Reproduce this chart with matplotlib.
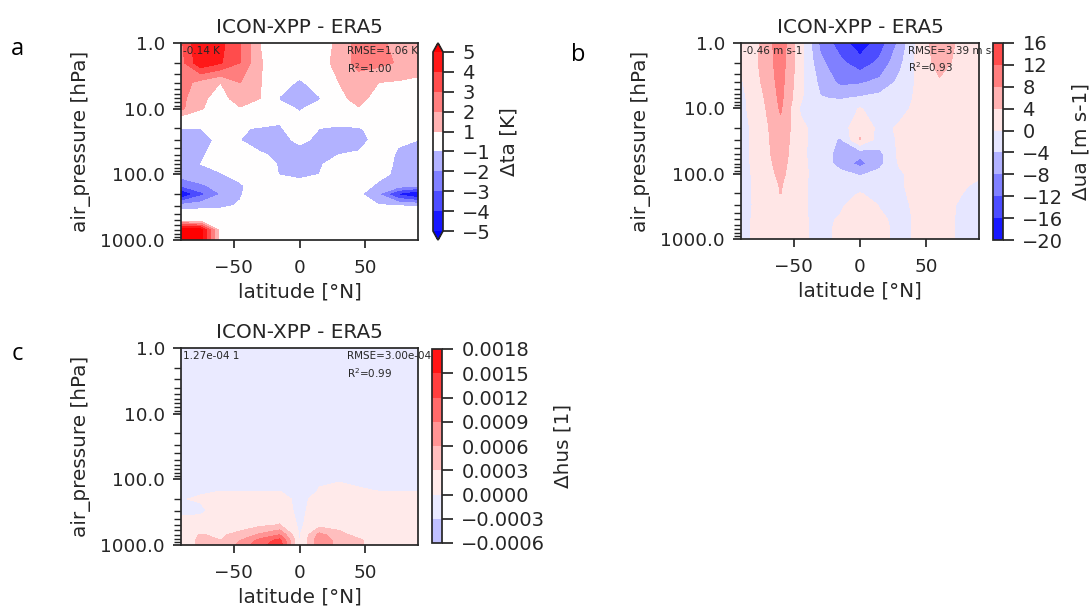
import numpy as np
import matplotlib
matplotlib.use('Agg')
import matplotlib.pyplot as plt
import seaborn as sns
from matplotlib.ticker import FuncFormatter

# zonal-mean differences ICON-XPP minus ERA5
lat = [-90, -75, -60, -45, -30, -15, 0, 15, 30, 45, 60, 75, 90]
plev = [1, 2, 4, 7, 10, 20, 30, 50, 70, 100, 150, 200, 300, 500, 700, 850, 1000]

# air temperature difference [K], one row per pressure level
ta_diff = [
    [2.8, 5.0, 4.3, 3.0, 1.0, 0.2, 0.0, 0.3, 1.3, 2.4, 2.3, 1.6, 1.4],
    [2.6, 4.8, 4.1, 3.0, 1.1, 0.3, 0.0, 0.4, 1.5, 2.3, 2.3, 1.9, 1.5],
    [2.5, 1.6, 1.0, 2.0, 1.1, -0.4, -1.2, -0.4, 1.0, 1.6, 1.0, 0.9, 0.8],
    [2.3, 1.2, 0.6, 1.5, 1.0, -1.1, -1.8, -1.1, 0.7, 1.4, 0.5, 0.3, 0.3],
    [2.2, 1.1, 0.4, 0.9, 0.5, -0.6, -1.1, -0.6, 0.4, 0.9, 0.3, 0.2, 0.2],
    [-1.05, -1.0, -0.5, -0.9, -1.1, -1.1, -0.5, -1.0, -1.2, -1.1, -0.6, 0.0, 0.0],
    [-1.4, -1.3, -0.8, -1.0, -1.4, -1.3, -0.8, -1.2, -1.4, -1.3, -0.7, -0.9, -1.0],
    [-1.3, -1.1, -0.7, -0.6, -0.9, -1.2, -1.4, -1.1, -1.0, -0.9, -0.6, -1.1, -1.3],
    [-1.3, -1.0, -0.6, -0.4, -0.5, -1.1, -1.4, -1.1, -0.6, -0.5, -0.5, -1.2, -1.4],
    [-1.5, -1.3, -1.1, -0.5, -0.3, -1.05, -1.3, -1.0, -0.5, -0.4, -0.6, -1.3, -1.6],
    [-3.0, -2.2, -1.6, -1.2, -0.2, -0.3, -0.5, -0.3, -0.2, -0.3, -1.3, -1.6, -1.9],
    [-5.2, -3.3, -2.0, -1.1, -0.2, 0.0, 0.0, 0.0, 0.0, -0.8, -2.0, -4.2, -5.3],
    [-1.6, -1.4, -1.2, -0.9, 0.0, 0.0, 0.0, 0.0, 0.0, -0.3, -0.9, -1.0, -1.1],
    [0.5, 0.4, 0.0, 0.0, 0.0, 0.0, 0.0, 0.0, 0.0, 0.0, 0.0, 0.0, 0.0],
    [6.0, 5.5, 0.5, 0.0, 0.0, 0.0, 0.0, 0.0, 0.0, 0.0, 0.0, 0.0, 0.0],
    [6.0, 5.5, 0.5, 0.0, 0.0, 0.0, 0.0, 0.0, 0.0, 0.0, 0.0, 0.0, 0.0],
    [6.0, 5.5, 0.5, 0.0, 0.0, 0.0, 0.0, 0.0, -1.1, 0.0, 0.0, 0.0, 0.0],
]

# eastward wind difference [m s-1]
ua_diff = [
    [1.0, 4.2, 10.5, 1.5, -9.0, -14.0, -18.5, -14.0, -7.0, 2.0, 6.0, 3.5, 2.0],
    [0.8, 4.5, 10.0, 1.5, -7.0, -11.0, -14.5, -11.0, -5.0, 1.5, 5.5, 3.0, 2.0],
    [-0.5, 4.0, 9.5, 1.0, -5.0, -9.0, -8.5, -7.0, -3.0, 1.0, 3.5, 2.5, 1.5],
    [-1.0, 3.0, 9.0, 0.5, -3.8, -4.3, -3.5, -2.5, -1.5, 0.8, 2.5, 2.0, 1.0],
    [-1.0, 2.5, 8.5, -0.5, -2.0, -2.0, 0.2, -1.5, -1.0, 1.0, 2.0, 1.5, 1.0],
    [-1.5, 2.0, 7.0, 0.8, -1.5, -2.0, 2.5, -1.0, 0.5, 2.0, 2.0, 1.5, 1.0],
    [-1.5, 2.0, 6.5, 0.8, -1.5, -4.5, 4.3, -2.0, 0.5, 2.0, 2.0, 1.5, 1.0],
    [-1.5, 2.0, 6.0, 0.8, -1.8, -5.5, -7.0, -5.0, 1.0, 2.0, 2.0, 1.5, 1.0],
    [-1.5, 1.8, 5.5, 0.8, -1.5, -5.5, -9.5, -5.0, 0.5, 1.5, 1.5, 1.0, 0.5],
    [-1.5, 1.5, 5.0, 0.8, -1.2, -3.0, -4.5, -3.0, -0.5, 1.5, 1.5, 1.0, 0.5],
    [-1.5, 1.2, 4.3, 0.5, -1.0, -1.0, -1.5, -1.0, -0.5, 1.5, 1.5, 0.5, -0.5],
    [-1.2, 1.0, 4.1, 0.5, -1.0, -0.8, 0.1, -0.8, -0.5, 1.0, 1.0, 0.2, -1.0],
    [-1.0, 0.8, 2.0, 0.5, -1.0, -0.5, 1.5, -0.2, -0.5, 0.5, 1.0, -0.2, -1.2],
    [-1.0, 1.0, 1.5, 0.5, -0.8, 0.3, 2.0, 0.5, -0.8, 0.5, 1.0, -0.3, -1.0],
    [-1.0, 1.0, 1.5, 0.5, -0.8, 0.5, 2.0, 0.8, -0.8, 0.5, 1.0, -0.3, -1.0],
    [-1.0, 1.0, 1.5, 0.5, -0.8, 0.5, 2.0, 0.8, -0.8, 0.5, 1.0, -0.3, -1.0],
    [-1.0, 1.0, 1.5, 0.5, -0.8, 0.5, 2.0, 0.8, -0.8, 0.5, 1.0, -0.3, -1.0],
]

# specific humidity difference [1], in units of 1e-4
hus_diff_e4 = [
    [-0.1, -0.1, -0.1, -0.1, -0.1, -0.1, -0.1, -0.1, -0.1, -0.1, -0.1, -0.1, -0.1],
    [-0.1, -0.1, -0.1, -0.1, -0.1, -0.1, -0.1, -0.1, -0.1, -0.1, -0.1, -0.1, -0.1],
    [-0.1, -0.1, -0.1, -0.1, -0.1, -0.1, -0.1, -0.1, -0.1, -0.1, -0.1, -0.1, -0.1],
    [-0.1, -0.1, -0.1, -0.1, -0.1, -0.1, -0.1, -0.1, -0.1, -0.1, -0.1, -0.1, -0.1],
    [-0.1, -0.1, -0.1, -0.1, -0.1, -0.1, -0.1, -0.1, -0.1, -0.1, -0.1, -0.1, -0.1],
    [-0.1, -0.1, -0.1, -0.1, -0.1, -0.1, -0.1, -0.1, -0.1, -0.1, -0.1, -0.1, -0.1],
    [-0.1, -0.1, -0.1, -0.1, -0.1, -0.1, -0.1, -0.1, -0.1, -0.1, -0.1, -0.1, -0.1],
    [-0.1, -0.1, -0.1, -0.1, -0.1, -0.1, -0.1, -0.1, -0.1, -0.1, -0.1, -0.1, -0.1],
    [-0.1, -0.1, -0.1, -0.1, -0.1, -0.1, -0.1, -0.1, -0.1, -0.1, -0.1, -0.1, -0.1],
    [-0.1, -0.1, -0.1, -0.1, -0.1, -0.1, -0.1, -0.1, -0.1, -0.1, -0.1, -0.1, -0.1],
    [-0.2, -0.1, -0.01, -0.01, -0.01, -0.01, -0.5, 0.05, 0.3, 0.05, -0.01, -0.01, -0.01],
    [-0.05, 0.1, 0.5, 0.6, 0.6, 0.7, -0.5, 0.6, 0.8, 0.7, 0.6, 0.6, 0.6],
    [-0.4, -0.2, 0.5, 0.8, 0.9, 1.0, -0.5, 1.0, 1.0, 0.9, 0.8, 0.8, 0.8],
    [0.8, 0.5, 1.0, 1.5, 2.5, 3.2, -0.5, 2.0, 1.8, 1.5, 1.2, 1.0, 1.0],
    [1.5, 3.2, 2.5, 4.0, 6.5, 9.0, -0.3, 7.0, 4.0, 2.0, 1.2, 1.0, 1.0],
    [1.5, 3.5, 3.0, 6.0, 10.0, 13.0, -0.3, 8.0, 5.0, 3.5, 1.5, 1.0, 1.0],
    [1.5, 3.5, 3.0, 7.0, 11.0, 14.0, -0.3, 8.0, 5.0, 3.5, 1.5, 1.0, 1.0],
]

ta_levels = [-5, -4, -3, -2, -1, 1, 2, 3, 4, 5]
ua_levels = [-20, -16, -12, -8, -4, 0, 4, 8, 12, 16]
hus_levels = [-0.0006, -0.0003, 0.0, 0.0003, 0.0006, 0.0009, 0.0012, 0.0015, 0.0018]

sns.set_theme(style='ticks', context='notebook', font_scale=1.2)

W, H = 1090, 606
fig = plt.figure(figsize=(W / 100, H / 100), dpi=100)

# contour in log-pressure so the bands interpolate like on the log axis
logp = np.log10(plev)
minor_p = [m * 10 ** k for k in range(3) for m in range(2, 10)]


def px_rect(x0, y0, x1, y1):
    # pixel box (left, top, right, bottom) -> figure fraction rect
    return [x0 / W, 1 - y1 / H, (x1 - x0) / W, (y1 - y0) / H]


def draw_panel(ax_box, cax_box, field, levels, vlim, extend, cbar_label,
               bias, rmse, r2, fmt=None):
    ax = fig.add_axes(px_rect(*ax_box))
    cf = ax.contourf(lat, logp, field, levels=levels, cmap='bwr',
                     vmin=-vlim, vmax=vlim, extend=extend)
    ax.set_ylim(3, 0)
    ax.set_xlim(-90, 90)
    ax.set_yticks([0, 1, 2, 3])
    ax.set_yticklabels(['1.0', '10.0', '100.0', '1000.0'])
    ax.set_yticks(np.log10(minor_p), minor=True)
    ax.tick_params(axis='y', which='minor', length=4.8, width=1.0)
    ax.tick_params(axis='y', which='major', pad=5.5)
    ax.tick_params(axis='x', pad=7.5)
    ax.set_xticks([-50, 0, 50])
    ax.set_xlabel('latitude [°N]')
    ax.set_ylabel('air_pressure [hPa]', labelpad=7)
    ax.set_title('ICON-XPP - ERA5', pad=7.5)
    ax.text(0.01, 0.985, bias, transform=ax.transAxes, fontsize=7.5, va='top')
    ax.text(0.70, 0.985, rmse, transform=ax.transAxes, fontsize=7.5, va='top')
    ax.text(0.70, 0.91, r2, transform=ax.transAxes, fontsize=7.5, va='top')

    cax = fig.add_axes(px_rect(*cax_box))
    cb = fig.colorbar(cf, cax=cax, ticks=levels)
    if fmt is not None:
        cb.ax.yaxis.set_major_formatter(fmt)
    cb.ax.tick_params(labelsize=14, length=8, pad=6)
    cb.set_label(cbar_label, labelpad=6)
    return ax


hus_diff = np.array(hus_diff_e4) * 1e-4
minus_fmt = FuncFormatter(lambda v, p: f'{v:.4f}'.replace('-', '\u2212'))

draw_panel((181, 43, 418, 240), (433, 43, 443, 240), ta_diff, ta_levels, 5,
           'both', 'Δta [K]', '-0.14 K', 'RMSE=1.06 K', 'R$^2$=1.00')
draw_panel((741, 43, 979, 239), (993, 43, 1003, 240), ua_diff, ua_levels, 20,
           'neither', 'Δua [m s-1]', '-0.46 m s-1', 'RMSE=3.39 m s-1', 'R$^2$=0.93')
draw_panel((181, 348, 418, 545), (432, 349, 442, 543), hus_diff, hus_levels, 0.0018,
           'neither', 'Δhus [1]', '1.27e-04 1', 'RMSE=3.00e-04 1', 'R$^2$=0.99',
           fmt=minus_fmt)

for label, x, y in [('a', 17, 49), ('b', 578, 55), ('c', 17, 354)]:
    fig.text(x / W, 1 - y / H, label, fontsize=17, family='Open Sans',
             color='black', ha='center', va='center')

fig.savefig('out.png', dpi=100, facecolor='white')
